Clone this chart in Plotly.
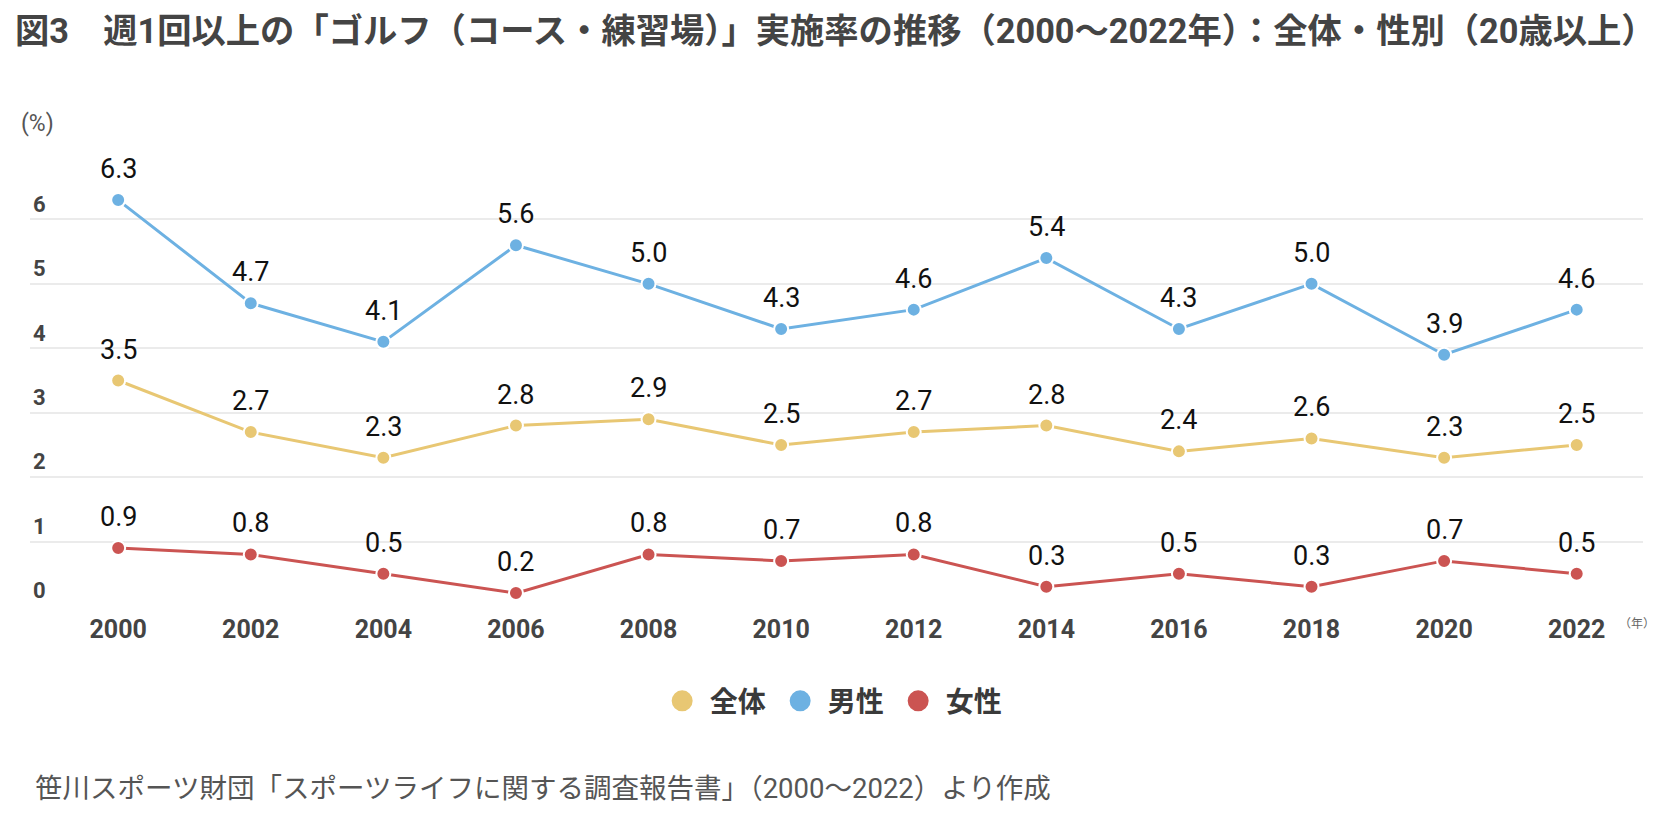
import plotly.graph_objects as go

years = [2000, 2002, 2004, 2006, 2008, 2010, 2012, 2014, 2016, 2018, 2020, 2022]
overall = [3.5, 2.7, 2.3, 2.8, 2.9, 2.5, 2.7, 2.8, 2.4, 2.6, 2.3, 2.5]
male = [6.3, 4.7, 4.1, 5.6, 5.0, 4.3, 4.6, 5.4, 4.3, 5.0, 3.9, 4.6]
female = [0.9, 0.8, 0.5, 0.2, 0.8, 0.7, 0.8, 0.3, 0.5, 0.3, 0.7, 0.5]
series_names = ["全体", "男性", "女性"]
y_ticks = [0, 1, 2, 3, 4, 5, 6]

title_text = "図3　週1回以上の「ゴルフ（コース・練習場）」実施率の推移（2000〜2022年）：全体・性別（20歳以上）"
source_text = "笹川スポーツ財団「スポーツライフに関する調査報告書」（2000〜2022）より作成"

colors = {"全体": "#E8C773", "男性": "#6DB1E2", "女性": "#CB5452"}
data = {"全体": overall, "男性": male, "女性": female}

FONT = "Roboto, 'Noto Sans CJK JP', sans-serif"

fig = go.Figure()
label_annotations = []
for name in ["男性", "全体", "女性"]:
    fig.add_trace(go.Scatter(
        x=years, y=data[name], mode="lines+markers",
        name=name, showlegend=False,
        line=dict(color=colors[name], width=3),
        marker=dict(color=colors[name], size=14, line=dict(color="white", width=2)),
        cliponaxis=False,
        hoverinfo="skip",
    ))
    for xv, yv in zip(years, data[name]):
        label_annotations.append(dict(
            x=xv, y=yv, xref="x", yref="y", text=f"{yv:.1f}", showarrow=False,
            xanchor="center", yanchor="middle", yshift=31,
            font=dict(family=FONT, size=27, color="#111111"),
        ))
# legend entries
for name in series_names:
    fig.add_trace(go.Scatter(
        x=[None], y=[None], mode="markers", name=name, showlegend=True,
        marker=dict(color=colors[name], size=16, line=dict(color=colors[name], width=5)),
    ))

fig.update_layout(
    width=1666, height=822,
    paper_bgcolor="white", plot_bgcolor="white",
    margin=dict(l=30, r=23, t=155, b=216),
    font=dict(family=FONT, color="#444444"),
    title=dict(text="<b>" + title_text + "</b>", x=0.009, xanchor="left", y=0.962, yanchor="middle",
               font=dict(family=FONT, size=34.3, color="#444444")),
    showlegend=True,
    legend=dict(orientation="h", x=0.497, xanchor="center", y=-0.211, yanchor="middle",
                font=dict(family=FONT, size=28, color="#3A3A3A", weight="bold"),
                itemwidth=45, entrywidth=58, entrywidthmode="pixels",
                itemclick=False, itemdoubleclick=False, traceorder="normal"),
    xaxis=dict(range=[1998.67, 2023.0], tickvals=years, ticktext=[f"<b>{y}</b>" for y in years],
               showgrid=False, zeroline=False, showline=False, ticks="", ticklabelstandoff=6,
               tickfont=dict(family=FONT, size=25, color="#444444"), fixedrange=True),
    yaxis=dict(range=[0, 7], tickvals=y_ticks, ticktext=[f"<b>{t}</b>" for t in y_ticks],
               ticklabelposition="inside top", showgrid=True, gridcolor="#EBEBEB", gridwidth=1.5,
               zeroline=False, showline=False, ticks="",
               tickfont=dict(family=FONT, size=22, color="#444444"), fixedrange=True),
    annotations=label_annotations + [
        dict(text="(%)", xref="paper", yref="paper", x=-0.007, y=1.07, xanchor="left", yanchor="middle",
             showarrow=False, font=dict(family=FONT, size=23, color="#555555")),
        dict(text="（年）", xref="paper", yref="paper", x=0.9965, y=-0.041, xanchor="center", yanchor="middle",
             showarrow=False, font=dict(family=FONT, size=12, color="#666666")),
        dict(text=source_text, xref="paper", yref="paper", x=0.002, y=-0.405, xanchor="left", yanchor="middle",
             showarrow=False, font=dict(family=FONT, size=27.5, color="#555555")),
    ],
)

fig.write_html("out.html", config={"displayModeBar": False},
               post_script="document.body.style.margin='0';")
